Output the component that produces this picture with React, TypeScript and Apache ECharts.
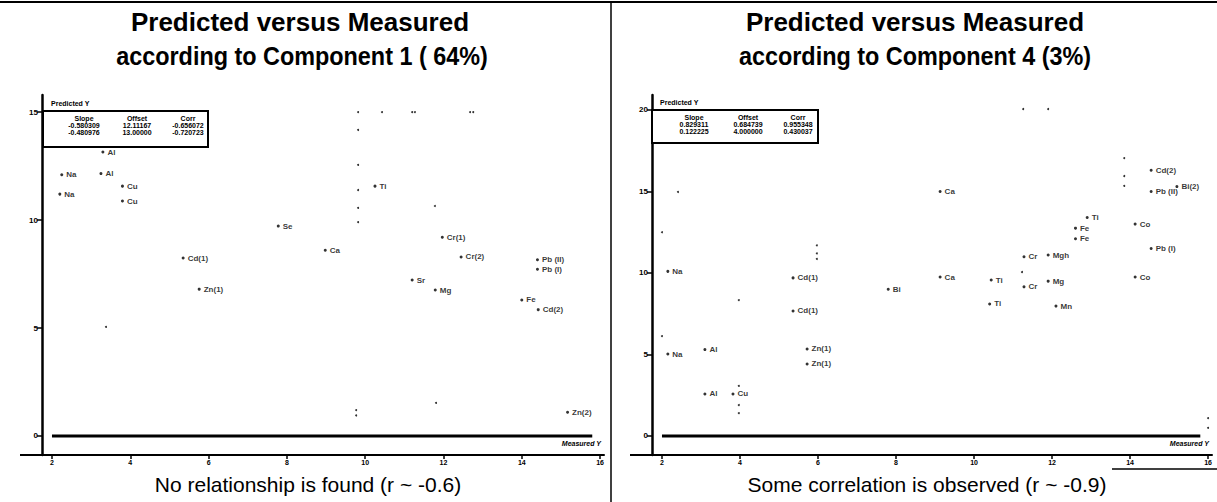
import React, { useEffect, useRef } from "react";
import * as echarts from "echarts";

// ---------- data ----------
const xTicks = [2, 4, 6, 8, 10, 12, 14, 16];
const leftYTicks = [0, 5, 10, 15];
const rightYTicks = [0, 5, 10, 15, 20];

const leftLabels = ["Na", "Na", "Al", "Al", "Cu", "Cu", "Se", "Ca", "Ti", "Cd(1)", "Zn(1)", "Cr(1)", "Cr(2)", "Pb (II)", "Pb (I)", "Sr", "Mg", "Fe", "Cd(2)", "Zn(2)"];
const leftMeasured = [2.25, 2.2, 3.25, 3.3, 3.8, 3.8, 7.78, 8.98, 10.25, 5.35, 5.76, 11.97, 12.45, 14.4, 14.4, 11.2, 11.79, 14.0, 14.42, 15.17];
const leftPredicted = [12.1, 11.2, 12.15, 13.15, 11.57, 10.88, 9.72, 8.6, 11.57, 8.24, 6.8, 9.2, 8.29, 8.16, 7.72, 7.22, 6.76, 6.3, 5.85, 1.1];

const leftStrayMeasured = [9.82, 10.43, 11.2, 11.27, 12.68, 12.76, 9.82, 9.82, 9.82, 9.82, 9.82, 11.78, 3.38, 9.77, 9.77, 11.81];
const leftStrayPredicted = [15.0, 15.0, 15.0, 15.0, 15.0, 15.0, 14.17, 12.55, 11.39, 10.56, 9.9, 10.65, 5.05, 1.2, 0.95, 1.53];

const rightLabels = ["Na", "Na", "Al", "Al", "Cu", "Cd(1)", "Cd(1)", "Zn(1)", "Zn(1)", "Bi", "Ca", "Ca", "Ti", "Ti", "Cr", "Mgh", "Cr", "Mg", "Mn", "Fe", "Fe", "Ti", "Co", "Co", "Pb (II)", "Pb (I)", "Cd(2)", "Bi(2)"];
const rightMeasured = [2.15, 2.15, 3.1, 3.1, 3.82, 5.36, 5.36, 5.72, 5.72, 7.8, 9.13, 9.13, 10.44, 10.4, 11.28, 11.9, 11.28, 11.9, 12.1, 12.6, 12.6, 12.9, 14.13, 14.13, 14.54, 14.54, 14.54, 15.2];
const rightPredicted = [10.1, 5.03, 5.3, 2.58, 2.58, 9.7, 7.67, 5.34, 4.42, 9.0, 15.0, 9.75, 9.57, 8.1, 11.0, 11.1, 9.15, 9.5, 7.97, 12.75, 12.1, 13.4, 13.0, 9.75, 15.0, 11.5, 16.3, 15.3];

const rightStrayMeasured = [11.26, 11.9, 13.85, 13.85, 13.85, 2.41, 2.0, 5.97, 5.97, 5.97, 3.97, 2.0, 3.97, 3.97, 3.97, 11.23, 16.0, 16.0];
const rightStrayPredicted = [20.06, 20.06, 17.05, 15.95, 15.34, 14.97, 12.5, 11.7, 11.2, 10.86, 8.34, 6.13, 3.07, 1.9, 1.4, 10.06, 1.1, 0.5];

const zeroLineMeasured = [2, 15.8];
const zeroLinePredicted = [0, 0];

const titles = ["Predicted versus Measured", "according to Component 1 ( 64%)", "according to Component 4 (3%)"];
const captions = ["No relationship is found (r ~ -0.6)", "Some correlation is observed (r ~ -0.9)"];
const statHeaders = ["Slope", "Offset", "Corr"];
const leftStats = [["-0.580309", "12.11167", "-0.656072"], ["-0.480976", "13.00000", "-0.720723"]];
const rightStats = [["0.829311", "0.684739", "0.955348"], ["0.122225", "4.000000", "0.430037"]];

// ---------- helpers ----------
const FONT = '"Liberation Sans", Arial, sans-serif';

function labeled(xs: number[], ys: number[], names: string[]) {
  return xs.map((x, i) => ({ value: [x, ys[i]], name: names[i] }));
}
function pts(xs: number[], ys: number[]) {
  return xs.map((x, i) => [x, ys[i]]);
}

function xAxisCfg(grid: number, min: number) {
  return {
    gridIndex: grid,
    type: "value",
    min,
    max: 16.1,
    splitLine: { show: false },
    axisLine: { onZero: false, lineStyle: { color: "#000", width: 2 } },
    axisTick: { customValues: xTicks, length: 4, lineStyle: { color: "#000", width: 1.5 } },
    axisLabel: { customValues: xTicks, fontSize: 7, fontWeight: "bold", color: "#000", margin: 4, fontFamily: FONT },
  };
}
function yAxisCfg(grid: number, min: number, max: number, ticks: number[]) {
  return {
    gridIndex: grid,
    type: "value",
    min,
    max,
    splitLine: { show: false },
    axisLine: { onZero: false, lineStyle: { color: "#000", width: 2.5 } },
    axisTick: { customValues: ticks, length: 5, lineStyle: { color: "#000", width: 1.5 } },
    axisLabel: { customValues: ticks, fontSize: 8, fontWeight: "bold", color: "#000", margin: 4, fontFamily: FONT },
  };
}

function labeledSeries(grid: number, data: any[]) {
  return {
    type: "scatter",
    xAxisIndex: grid,
    yAxisIndex: grid,
    symbolSize: 3,
    itemStyle: { color: "#000" },
    data,
    label: { show: true, position: "right", distance: 3, formatter: "{b}", fontSize: 8, fontWeight: "bold", color: "#000", fontFamily: FONT },
  };
}
function straySeries(grid: number, data: any[]) {
  return { type: "scatter", xAxisIndex: grid, yAxisIndex: grid, symbolSize: 2, itemStyle: { color: "#000" }, data };
}
function zeroSeries(grid: number) {
  return {
    type: "line",
    xAxisIndex: grid,
    yAxisIndex: grid,
    symbol: "none",
    lineStyle: { color: "#000", width: 3 },
    data: pts(zeroLineMeasured, zeroLinePredicted),
  };
}

function txt(text: string, x: number, y: number, font: string, align = "center", scaleX = 1) {
  return {
    type: "text",
    z: 100,
    x,
    y,
    scaleX,
    style: { text, x: 0, y: 0, font, fill: "#000", textAlign: align, textVerticalAlign: "middle", align, verticalAlign: "middle" },
  };
}

function statsBox(ox: number, by: number, bw: number, bh: number, cols: number[], rows: number[], stats: string[][]) {
  const f = `bold 7px ${FONT}`;
  const els: any[] = [
    { type: "rect", z: 90, shape: { x: ox, y: by, width: bw, height: bh }, style: { fill: "#fff", stroke: "#000", lineWidth: 2 } },
    txt("Predicted Y", ox + 8, by - 8, f, "left"),
  ];
  statHeaders.forEach((h, i) => els.push(txt(h, cols[i], rows[0], f)));
  stats.forEach((r, ri) => r.forEach((v, ci) => els.push(txt(v, cols[ci], rows[ri + 1], f))));
  return els;
}

export default function App() {
  const ref = useRef<HTMLDivElement>(null);
  useEffect(() => {
    if (!ref.current) return;
    const chart = echarts.init(ref.current, undefined, { renderer: "svg" });
    const titleFont = `bold 26px ${FONT}`;
    const capFont = `21px ${FONT}`;
    const graphic: any[] = [
      { type: "line", z: 100, shape: { x1: 0, y1: 2, x2: 1217, y2: 2 }, style: { stroke: "#000", lineWidth: 2 } },
      { type: "line", z: 100, shape: { x1: 611, y1: 2, x2: 611, y2: 502 }, style: { stroke: "#000", lineWidth: 1.5 } },
      { type: "line", z: 100, shape: { x1: 1112, y1: 469, x2: 1217, y2: 469 }, style: { stroke: "#000", lineWidth: 1.5 } },
      { type: "line", z: 100, shape: { x1: 20, y1: 455, x2: 43, y2: 455 }, style: { stroke: "#000", lineWidth: 2 } },
      { type: "line", z: 100, shape: { x1: 630, y1: 455, x2: 653, y2: 455 }, style: { stroke: "#000", lineWidth: 2 } },
      txt(titles[0], 300, 22, titleFont),
      txt(titles[1], 302, 56, titleFont, "center", 0.9),
      txt(titles[0], 915, 22, titleFont),
      txt(titles[2], 915, 56, titleFont, "center", 0.9),
      txt(captions[0], 308, 484, capFont),
      txt(captions[1], 927, 484, capFont),
      txt("Measured Y", 601, 443, `italic bold 7px ${FONT}`, "right"),
      txt("Measured Y", 1209, 443, `italic bold 7px ${FONT}`, "right"),
      ...statsBox(43, 111, 165, 36, [84, 137, 188], [118, 125, 132], leftStats),
      ...statsBox(652, 110, 166, 33, [694, 748, 798], [117, 124, 131], rightStats),
    ];
    chart.setOption({
      animation: false,
      backgroundColor: "#fff",
      grid: [
        { left: 42, top: 95, width: 562, height: 360 },
        { left: 652, top: 95, width: 560, height: 360 },
      ],
      xAxis: [xAxisCfg(0, 1.745), xAxisCfg(1, 1.744)],
      yAxis: [yAxisCfg(0, -0.88, 15.79, leftYTicks), yAxisCfg(1, -1.166, 20.92, rightYTicks)],
      series: [
        zeroSeries(0),
        zeroSeries(1),
        straySeries(0, pts(leftStrayMeasured, leftStrayPredicted)),
        straySeries(1, pts(rightStrayMeasured, rightStrayPredicted)),
        labeledSeries(0, labeled(leftMeasured, leftPredicted, leftLabels)),
        labeledSeries(1, labeled(rightMeasured, rightPredicted, rightLabels)),
      ],
      graphic,
    });
    return () => chart.dispose();
  }, []);
  return <div ref={ref} style={{ position: "fixed", left: 0, top: 0, width: 1217, height: 502, background: "#fff" }} />;
}
